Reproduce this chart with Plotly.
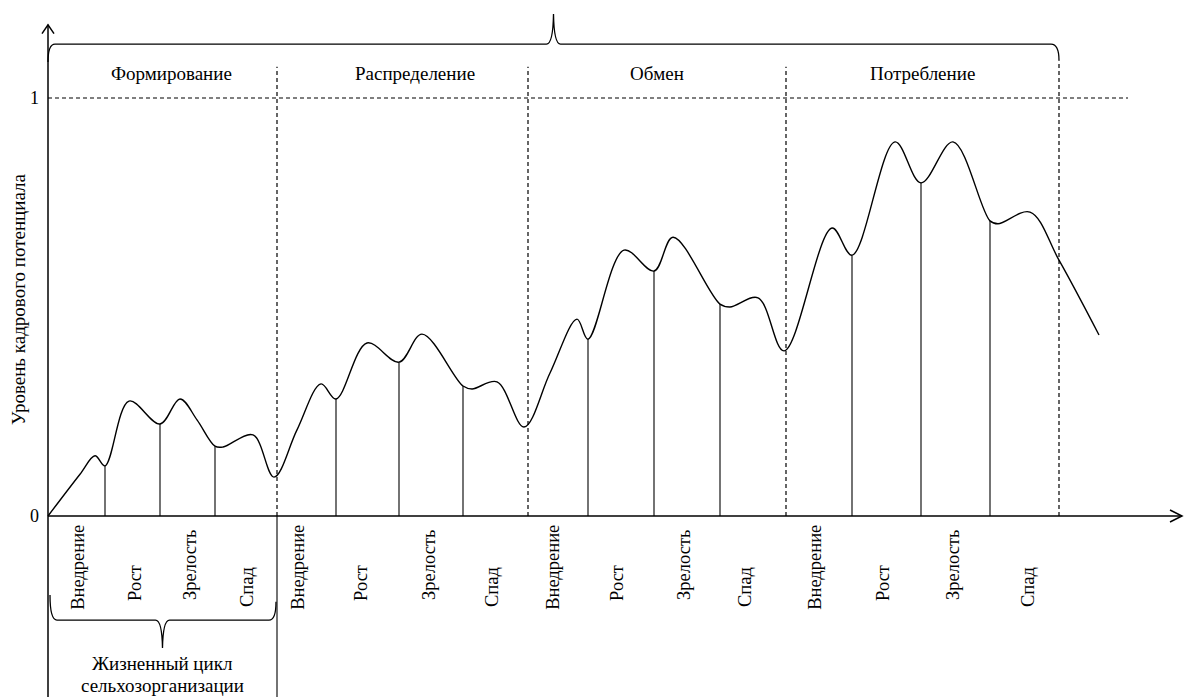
import plotly.graph_objects as go

# ---------------- data ----------------
# x: time from origin (arbitrary units), y: level of personnel potential (0..1)
curve_x = [0, 32, 47, 57, 81, 112, 132, 149, 167, 175, 205, 226, 249, 273, 288,
           319, 351, 374, 415, 424, 449, 476, 502, 529, 540, 576, 606, 625, 672, 682,
           710, 736, 784, 804, 847, 873, 905, 942, 950, 982, 1011, 1051]
curve_y = [0, 0.100, 0.144, 0.120, 0.275, 0.220, 0.280, 0.230, 0.167, 0.165,
           0.194, 0.093, 0.206, 0.316, 0.280, 0.414, 0.368, 0.435, 0.311, 0.304, 0.321,
           0.213, 0.342, 0.471, 0.423, 0.636, 0.586, 0.667, 0.507, 0.500, 0.522, 0.395,
           0.689, 0.624, 0.895, 0.797, 0.895, 0.706, 0.699, 0.727, 0.612, 0.433]

stage_end_x = [57, 112, 167, 288, 351, 415, 540, 606, 672, 804, 873, 942]
phase_bounds = [0, 229, 480, 738, 1011]
phase_names = ["Формирование", "Распределение", "Обмен", "Потребление"]
phase_label_x = [123, 367, 609, 874]
stage_names = ["Внедрение", "Рост", "Зрелость", "Спад"]
stage_label_x = [30, 87, 142, 199, 250, 313, 381, 444, 505, 569, 636, 697, 767, 835, 905, 980]
stage_label_y = [-0.124, -0.160, -0.117, -0.170]
y_ticks = [0, 1]
y_title = "Уровень кадрового потенциала"
cycle_label = ["Жизненный цикл", "сельхозорганизации"]

# ---------------- figure ----------------
FONT = "Liberation Serif"
# page body has an 8px margin: the figure covers page pixels 8..1192 x 8..697
X0, X1 = -40, 1144
Y0, Y1 = -0.433, 1.2153
AX_END = 1134
TOP_Y = 1.175

fig = go.Figure()
fig.add_trace(go.Scatter(x=curve_x, y=curve_y, mode="lines",
                         line=dict(color="black", width=1.4, shape="spline", smoothing=1.0),
                         hoverinfo="skip"))

shapes = []
black = dict(color="black", width=1.5)
thin = dict(color="black", width=1.1)
dash = dict(color="black", width=1.2, dash="4px,3px")

# axes
shapes.append(dict(type="line", x0=0, x1=0, y0=Y0, y1=TOP_Y, line=black))
shapes.append(dict(type="line", x0=0, x1=AX_END, y0=0, y1=0, line=black))
# arrow heads
ah = 0.021
shapes.append(dict(type="path", path=f"M -6,{TOP_Y-ah} L 0,{TOP_Y} L 6,{TOP_Y-ah}", line=black))
shapes.append(dict(type="path", path=f"M {AX_END-12},0.0144 L {AX_END},0 L {AX_END-12},-0.0144", line=black))

# dashed level 1
shapes.append(dict(type="line", x0=0, x1=1080, y0=1, y1=1, line=dash))
# dashed phase boundaries
for i, b in enumerate(phase_bounds[1:]):
    top = 1.075 if i < 3 else 1.09
    shapes.append(dict(type="line", x0=b, x1=b, y0=0, y1=top, line=dash))

# solid stage verticals
lookup = dict(zip(curve_x, curve_y))
for sx in stage_end_x:
    shapes.append(dict(type="line", x0=sx, x1=sx, y0=0, y1=lookup[sx], line=thin))

# box under first phase
shapes.append(dict(type="line", x0=phase_bounds[1], x1=phase_bounds[1], y0=Y0, y1=0, line=thin))

# top brace
yb = 1.129
mid = (phase_bounds[0] + phase_bounds[-1]) / 2
R = phase_bounds[-1]
top_path = (f"M 0,1.086 Q 0,{yb} 7,{yb} L {mid-7},{yb} Q {mid-0.5},{yb} {mid},1.201 "
            f"Q {mid+0.5},{yb} {mid+7},{yb} L {R-8},{yb} Q {R},{yb} {R},1.09")
shapes.append(dict(type="path", path=top_path, line=dict(color="black", width=1.3)))

# bottom brace
bb = -0.249
m2 = (phase_bounds[0] + phase_bounds[1]) / 2
r2 = phase_bounds[1] - 1
bot_path = (f"M 2,-0.189 Q 2,{bb} 9,{bb} L {m2-7},{bb} Q {m2-0.5},{bb} {m2},-0.316 "
            f"Q {m2+0.5},{bb} {m2+7},{bb} L {r2-7},{bb} Q {r2},{bb} {r2},-0.205")
shapes.append(dict(type="path", path=bot_path, line=dict(color="black", width=1.3)))

def f(size):
    return dict(family=FONT, size=size, color="black")

ann = []
for i, name in enumerate(phase_names):
    ann.append(dict(x=phase_label_x[i], y=1.058, text=name, showarrow=False, font=f(19)))
for k, lx in enumerate(stage_label_x):
    ann.append(dict(x=lx, y=stage_label_y[k % 4], text=stage_names[k % 4], showarrow=False,
                    textangle=-90, font=f(18.5)))
for t in y_ticks:
    ann.append(dict(x=-14, y=t, text=str(t), showarrow=False, font=f(18)))
ann.append(dict(x=-29, y=0.517, text=y_title, showarrow=False, textangle=-90,
                borderpad=0, font=f(19)))
ann.append(dict(x=m2, y=-0.354, text=cycle_label[0], showarrow=False, font=f(19)))
ann.append(dict(x=m2, y=-0.405, text=cycle_label[1], showarrow=False, borderpad=0, font=f(19)))

fig.update_layout(
    width=1184, height=689, autosize=False,
    margin=dict(l=0, r=0, t=0, b=0),
    paper_bgcolor="white", plot_bgcolor="white",
    showlegend=False,
    xaxis=dict(range=[X0, X1], visible=False, fixedrange=True),
    yaxis=dict(range=[Y0, Y1], visible=False, fixedrange=True),
    shapes=shapes, annotations=ann,
)
fig.write_html("out.html")
